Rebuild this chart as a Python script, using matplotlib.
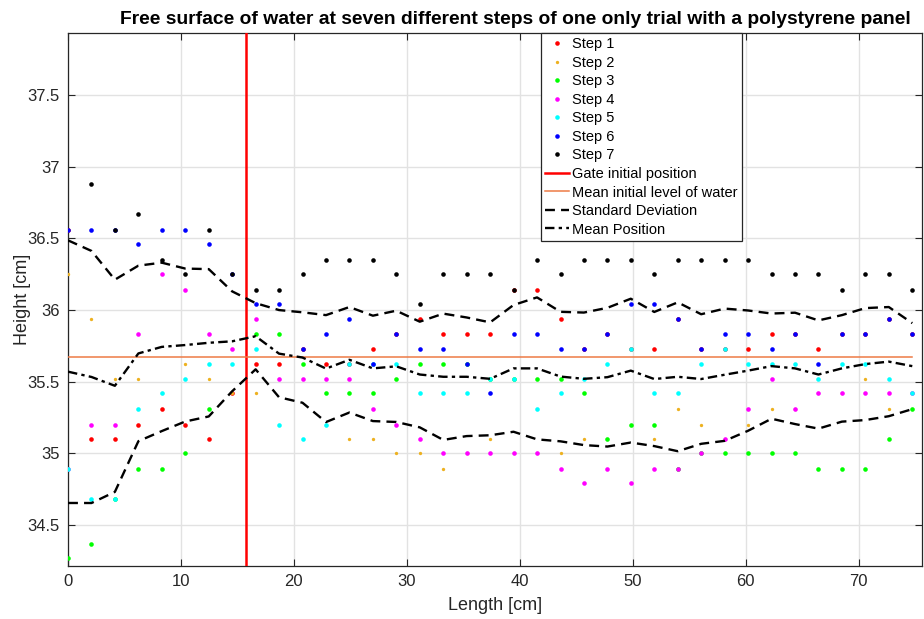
import numpy as np
import matplotlib
matplotlib.use("Agg")
import matplotlib.pyplot as plt

plt.rcParams['font.family'] = ['Liberation Sans', 'DejaVu Sans']

# ---------------- data ----------------
length_cm = [0.00, 2.08, 4.15, 6.23, 8.30, 10.38, 12.46, 14.53, 16.61, 18.68,
             20.76, 22.84, 24.91, 26.99, 29.06, 31.14, 33.22, 35.29, 37.37, 39.44,
             41.52, 43.60, 45.67, 47.75, 49.82, 51.90, 53.98, 56.05, 58.13, 60.20,
             62.28, 64.36, 66.43, 68.51, 70.58, 72.66, 74.74]

step1 = [36.56, 35.10, 35.10, 35.20, 35.31, 35.20, 35.10, 35.42, 35.62, 35.62,
         35.73, 35.62, 35.62, 35.73, 35.83, 35.94, 35.83, 35.83, 35.83, 36.14,
         36.14, 35.94, 35.73, 35.83, 35.73, 35.73, 35.94, 35.73, 35.73, 35.73,
         35.83, 35.83, 35.73, 35.83, 35.83, 35.94, 35.83]
step2 = [36.25, 35.94, 35.52, 35.52, 35.42, 35.62, 35.52, 35.42, 35.42, 35.52,
         35.73, 35.20, 35.10, 35.10, 35.00, 35.00, 34.89, 35.00, 35.10, 35.00,
         35.00, 35.00, 35.10, 35.10, 35.20, 35.10, 35.31, 35.20, 35.10, 35.20,
         35.31, 35.31, 35.42, 35.42, 35.52, 35.31, 35.31]
step3 = [34.27, 34.37, 34.68, 34.89, 34.89, 35.00, 35.31, np.nan, 35.83, 35.83,
         35.62, 35.42, 35.42, 35.42, 35.52, 35.62, 35.62, 35.62, 35.52, 35.52,
         35.52, 35.52, 35.42, 35.10, 35.20, 35.20, 34.89, 35.00, 35.00, 35.00,
         35.00, 35.00, 34.89, 34.89, 34.89, 35.10, 35.31]
step4 = [34.89, 35.20, 35.20, 35.83, 36.25, 36.14, 35.83, 35.73, 35.94, 35.52,
         35.52, 35.52, 35.52, 35.31, 35.20, 35.10, 35.00, 35.00, 35.00, 35.00,
         35.00, 34.89, 34.79, 34.89, 34.79, 34.89, 34.89, 35.00, 35.10, 35.31,
         35.52, 35.31, 35.42, 35.42, 35.42, 35.42, 35.42]
step5 = [34.89, 34.68, 34.68, 35.31, 35.42, 35.52, 35.62, 35.62, 35.73, 35.20,
         35.10, 35.20, 35.62, 35.62, 35.62, 35.42, 35.42, 35.42, 35.52, 35.52,
         35.31, 35.42, 35.52, 35.62, 35.73, 35.42, 35.42, 35.62, 35.73, 35.62,
         35.62, 35.62, 35.52, 35.62, 35.62, 35.52, 35.42]
step6 = [36.56, 36.56, 36.56, 36.46, 36.56, 36.56, 36.46, 36.25, 36.04, 36.04,
         35.73, 35.83, 35.94, 35.62, 35.83, 35.73, 35.73, 35.62, 35.42, 35.83,
         35.83, 35.73, 35.73, 35.83, 36.04, 36.04, 35.94, 35.73, 35.83, 35.83,
         35.73, 35.83, 35.62, 35.83, 35.83, 35.94, 35.83]
step7 = [np.nan, 36.88, 36.56, 36.67, 36.35, 36.25, 36.56, 36.25, 36.14, 36.14,
         36.25, 36.35, 36.35, 36.35, 36.25, 36.04, 36.25, 36.25, 36.25, 36.14,
         36.35, 36.25, 36.35, 36.35, 36.35, 36.25, 36.35, 36.35, 36.35, 36.35,
         36.25, 36.25, 36.25, 36.14, 36.25, 36.25, 36.14]

step_labels = ['Step 1', 'Step 2', 'Step 3', 'Step 4', 'Step 5', 'Step 6', 'Step 7']
step_colors = ['#FF0000', '#EDB120', '#00FF00', '#FF00FF', '#00FFFF', '#0000FF', '#000000']
gate_position = 15.75
mean_initial_level = 35.67

x_ticks = [0, 10, 20, 30, 40, 50, 60, 70]
y_ticks = [34.5, 35, 35.5, 36, 36.5, 37, 37.5]
y_tick_labels = ['34.5', '35', '35.5', '36', '36.5', '37', '37.5']

# ---------------- figure ----------------
fig = plt.figure(figsize=(9.24, 6.19), dpi=100)
ax = fig.add_axes([68/924, 1-566/619, (922-68)/924, (566-32.7)/619])

x = np.array(length_cm)
steps = np.array([step1, step2, step3, step4, step5, step6, step7])
handles = []
for i, (vals, lab, col) in enumerate(zip(steps, step_labels, step_colors)):
    ms = 2.4 if i == 1 else 3.3
    h, = ax.plot(x, vals, linestyle='none', marker='o', markersize=ms,
                 markeredgewidth=0, color=col, label=lab, zorder=3 + i * 0.01)
    handles.append(h)

gate = ax.axvline(gate_position, color='#FF0000', lw=1.8, zorder=4,
                  label='Gate initial position')
lvl, = ax.plot([x[0], x[-1]], [mean_initial_level, mean_initial_level],
               color='#EE7A45', lw=1.1, zorder=4, label='Mean initial level of water')

mean_pos = np.nanmean(steps, axis=0)
std_pos = np.nanstd(steps, axis=0)
std_style = (0, (4.2, 2.6))
mean_style = (0, (4.0, 1.8, 1.4, 1.8))
sd_up, = ax.plot(x, mean_pos + std_pos, color='black', lw=1.7, linestyle=std_style,
                 zorder=5, label='Standard Deviation')
ax.plot(x, mean_pos - std_pos, color='black', lw=1.7, linestyle=std_style, zorder=5)
mp, = ax.plot(x, mean_pos, color='black', lw=1.7, linestyle=mean_style, zorder=5,
              label='Mean Position')

ax.set_xlim(0, 75.6)
ax.set_ylim(34.214, 37.935)
ax.set_xticks(x_ticks)
ax.set_yticks(y_ticks)
ax.set_yticklabels(y_tick_labels)
ax.grid(True, color='#E2E2E2', lw=1.0, zorder=0)
ax.set_axisbelow(True)
ax.tick_params(direction='in', top=True, right=True, length=5, width=0.8,
               colors='#262626', labelsize=12, pad=6)
for sp in ax.spines.values():
    sp.set_color('#262626')
    sp.set_linewidth(0.9)

ax.set_xlabel('Length [cm]', fontsize=13, color='#262626', labelpad=5.5)
ax.set_ylabel('Height [cm]', fontsize=13, color='#262626', labelpad=-2.5)
ax.set_title('Free surface of water at seven different steps of one only trial with a polystyrene panel',
             fontsize=13.9, fontweight='bold', pad=6, x=(515-68)/854)

leg_handles = handles + [gate, lvl, sd_up, mp]
leg = fig.legend(handles=leg_handles, loc='upper left',
                 bbox_to_anchor=(541/924, 1-33/619), bbox_transform=fig.transFigure,
                 fontsize=10.5, frameon=True, fancybox=False, framealpha=1,
                 edgecolor='#262626', borderpad=0.3, labelspacing=0.31,
                 handlelength=1.65, handletextpad=0.15, borderaxespad=0)
leg.get_frame().set_linewidth(0.9)

fig.savefig('out.png', dpi=100)
